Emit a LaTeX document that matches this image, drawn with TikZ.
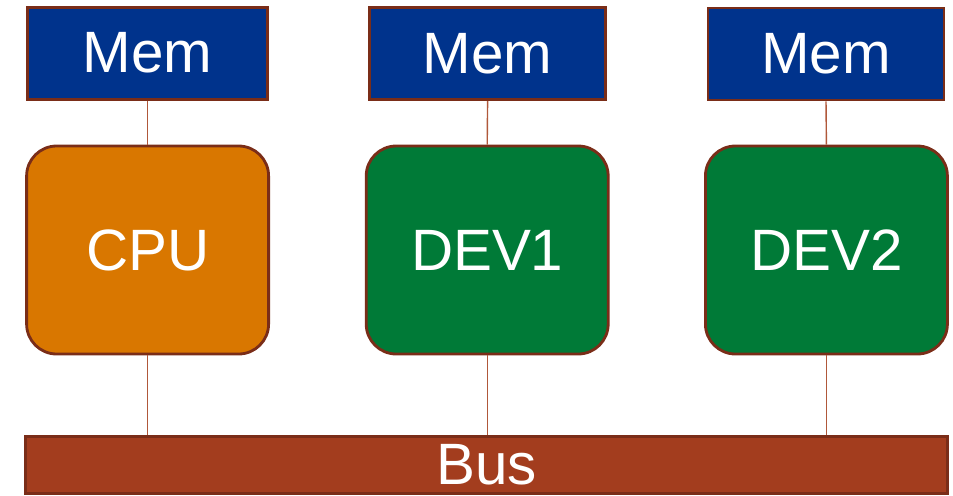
\documentclass[tikz,border=0pt]{standalone}
\usepackage{fontspec}
\setmainfont{Liberation Sans}
\usepackage{xcolor}
\definecolor{cMem}{HTML}{00338C}
\definecolor{cCpu}{HTML}{D97700}
\definecolor{cDev}{HTML}{007A37}
\definecolor{cBus}{HTML}{A33D1E}
\definecolor{cEdge}{HTML}{7A2D18}
\definecolor{cWire}{HTML}{B0583A}
\usetikzlibrary{positioning,calc}
\tikzset{
  node-box/.style={draw=cEdge,line width=2pt,align=center,text=white,
    font=\fontsize{41.5}{45}\selectfont,inner sep=0pt},
  node-mem/.style={node-box,fill=cMem,minimum width=6cm,minimum height=2.3cm},
  node-unit/.style={node-box,rounded corners=0.75cm,
    minimum width=6.05cm,minimum height=5.2cm},
  node-cpu/.style={fill=cCpu},
  node-dev/.style={fill=cDev},
  node-bus/.style={node-box,fill=cBus,minimum width=23.05cm,minimum height=1.42cm},
  wire/.style={draw=cWire,line width=1pt},
}

\begin{document}
\begin{tikzpicture}
  \useasboundingbox (0,0) rectangle (23.825,-12.375);
  % processing units
  \node[node-unit,node-cpu] (cpu)  at (3.69,-6.25)  {CPU};
  \node[node-unit,node-dev] (dev1) at (12.18,-6.25) {DEV1};
  \node[node-unit,node-dev] (dev2) at (20.66,-6.25) {DEV2};
  % local memories
  \node[node-mem] (mem1) at (3.69,-1.33)  {Mem};
  \node[node-mem,minimum width=5.9cm] (mem2) at (12.19,-1.34) {Mem};
  \node[node-mem,minimum width=5.9cm] (mem3) at (20.65,-1.35) {Mem};
  % shared bus
  \node[node-bus] (bus) at (12.16,-11.63) {Bus};
  \foreach \u/\m in {cpu/mem1,dev1/mem2,dev2/mem3}{
    \draw[wire] (\m.south) -- (\u.north);
    \draw[wire] (\u.south) -- (\u.south |- bus.north);
  }
\end{tikzpicture}
\end{document}
